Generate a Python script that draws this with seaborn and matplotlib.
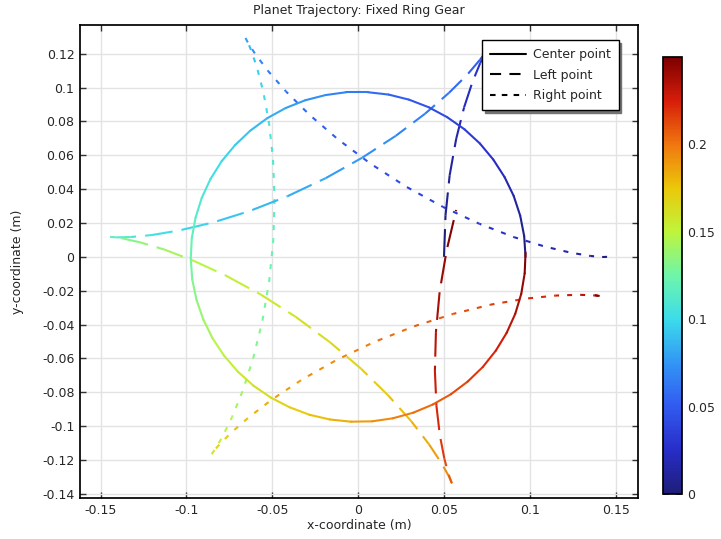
# Planet trajectory with a fixed ring gear, coloured by time

import numpy as np
import matplotlib
matplotlib.use("Agg")
import matplotlib.pyplot as plt
import seaborn as sns
from matplotlib.collections import LineCollection
from matplotlib.colors import LinearSegmentedColormap, Normalize
from matplotlib.lines import Line2D
from matplotlib.cm import ScalarMappable

# ----------------------------
# Data
# ----------------------------
time_s = [0.000, 0.005, 0.010, 0.015, 0.020, 0.025, 0.030, 0.035, 0.040, 0.045,
          0.050, 0.055, 0.060, 0.065, 0.070, 0.075, 0.080, 0.085, 0.090, 0.095,
          0.100, 0.105, 0.110, 0.115, 0.120, 0.125, 0.130, 0.135, 0.140, 0.145,
          0.150, 0.155, 0.160, 0.165, 0.170, 0.175, 0.180, 0.185, 0.190, 0.195,
          0.200, 0.205, 0.210, 0.215, 0.220, 0.225, 0.230, 0.235, 0.240, 0.245, 0.250]

center_x = [0.0975, 0.0967, 0.0944, 0.0906, 0.0853, 0.0787, 0.0709, 0.0619, 0.0519, 0.0411,
            0.0296, 0.0177, 0.0055, -0.0068, -0.0190, -0.0309, -0.0423, -0.0530, -0.0629, -0.0717,
            -0.0795, -0.0860, -0.0911, -0.0947, -0.0969, -0.0975, -0.0966, -0.0941, -0.0901, -0.0847,
            -0.0780, -0.0700, -0.0609, -0.0508, -0.0399, -0.0284, -0.0165, -0.0042, 0.0081, 0.0202,
            0.0321, 0.0434, 0.0540, 0.0638, 0.0726, 0.0802, 0.0865, 0.0915, 0.0950, 0.0970, 0.0975]
center_y = [0.0000, 0.0123, 0.0243, 0.0360, 0.0471, 0.0575, 0.0670, 0.0754, 0.0825, 0.0884,
            0.0929, 0.0959, 0.0973, 0.0973, 0.0956, 0.0925, 0.0879, 0.0819, 0.0745, 0.0660,
            0.0565, 0.0460, 0.0348, 0.0231, 0.0110, -0.0013, -0.0135, -0.0256, -0.0372, -0.0483,
            -0.0585, -0.0679, -0.0762, -0.0832, -0.0889, -0.0933, -0.0961, -0.0974, -0.0972, -0.0954,
            -0.0921, -0.0873, -0.0812, -0.0737, -0.0651, -0.0554, -0.0449, -0.0337, -0.0219, -0.0097, 0.0026]

left_x = [0.0500, 0.0509, 0.0533, 0.0571, 0.0617, 0.0666, 0.0711, 0.0744, 0.0759, 0.0749,
          0.0709, 0.0637, 0.0530, 0.0390, 0.0219, 0.0024, -0.0189, -0.0412, -0.0634, -0.0846,
          -0.1038, -0.1200, -0.1325, -0.1408, -0.1444, -0.1432, -0.1373, -0.1271, -0.1131, -0.0961,
          -0.0770, -0.0567, -0.0363, -0.0165, 0.0017, 0.0177, 0.0310, 0.0413, 0.0486, 0.0529,
          0.0547, 0.0544, 0.0527, 0.0502, 0.0476, 0.0456, 0.0447, 0.0453, 0.0475, 0.0516, 0.0571]
left_y = [0.0000, 0.0246, 0.0482, 0.0697, 0.0883, 0.1034, 0.1145, 0.1212, 0.1235, 0.1218,
          0.1164, 0.1078, 0.0970, 0.0846, 0.0715, 0.0586, 0.0465, 0.0358, 0.0270, 0.0203,
          0.0157, 0.0129, 0.0117, 0.0115, 0.0118, 0.0118, 0.0109, 0.0086, 0.0044, -0.0022,
          -0.0111, -0.0223, -0.0355, -0.0504, -0.0661, -0.0821, -0.0972, -0.1108, -0.1220, -0.1298,
          -0.1338, -0.1335, -0.1286, -0.1192, -0.1055, -0.0880, -0.0674, -0.0445, -0.0203, 0.0041, 0.0277]

right_x = [0.1450, 0.1426, 0.1355, 0.1241, 0.1090, 0.0909, 0.0707, 0.0494, 0.0279, 0.0073,
           -0.0117, -0.0283, -0.0420, -0.0526, -0.0599, -0.0641, -0.0656, -0.0647, -0.0623, -0.0589,
           -0.0552, -0.0519, -0.0496, -0.0487, -0.0494, -0.0518, -0.0558, -0.0611, -0.0671, -0.0733,
           -0.0789, -0.0832, -0.0855, -0.0851, -0.0816, -0.0746, -0.0639, -0.0498, -0.0325, -0.0125,
           0.0094, 0.0324, 0.0554, 0.0774, 0.0975, 0.1148, 0.1284, 0.1378, 0.1425, 0.1425, 0.1378]
right_y = [0.0000, -0.0001, 0.0005, 0.0024, 0.0060, 0.0116, 0.0195, 0.0295, 0.0415, 0.0550,
           0.0694, 0.0839, 0.0977, 0.1100, 0.1198, 0.1264, 0.1293, 0.1279, 0.1220, 0.1118,
           0.0973, 0.0791, 0.0580, 0.0347, 0.0102, -0.0143, -0.0380, -0.0598, -0.0788, -0.0944,
           -0.1060, -0.1135, -0.1168, -0.1160, -0.1118, -0.1045, -0.0950, -0.0840, -0.0724, -0.0609,
           -0.0503, -0.0411, -0.0337, -0.0282, -0.0247, -0.0229, -0.0224, -0.0228, -0.0234, -0.0235, -0.0226]

x_ticks = [-0.15, -0.1, -0.05, 0, 0.05, 0.1, 0.15]
y_ticks = [-0.14, -0.12, -0.1, -0.08, -0.06, -0.04, -0.02, 0, 0.02, 0.04, 0.06, 0.08, 0.1, 0.12]
cbar_ticks = [0, 0.05, 0.1, 0.15, 0.2]
legend_labels = ["Center point", "Left point", "Right point"]

# ----------------------------
# Style
# ----------------------------
sns.set_theme(style="whitegrid", rc={
    "axes.edgecolor": "black", "grid.color": "#e3e3e3", "xtick.direction": "in",
    "ytick.direction": "in", "axes.unicode_minus": False})
plt.rcParams['font.family'] = ['DejaVu Sans']
plt.rcParams['lines.scale_dashes'] = False

rainbow = ["#1e1e78", "#282dc8", "#325af0", "#3296f5", "#3cdceb", "#6ef5aa",
           "#bef53c", "#ebc80a", "#f0780f", "#d71e0a", "#7d0000"]
cmap = LinearSegmentedColormap.from_list("rainbow", rainbow)
norm = Normalize(0, 0.25)

fig = plt.figure(figsize=(7.21, 5.39), dpi=100)
ax = fig.add_axes([80/721, 1 - 498/539, 558/721, 473/539])
ax.set_xlim(-0.162, 0.163)
ax.set_ylim(-0.1425, 0.137)


def draw_path(x, y, tt, pattern):
    # one segment per time step, dash phase carried on so the pattern runs on
    pts = np.column_stack([x, y])
    tt = np.asarray(tt)
    segs = np.stack([pts[:-1], pts[1:]], axis=1)
    disp = ax.transData.transform(pts) * 72 / fig.dpi
    seglen = np.hypot(*np.diff(disp, axis=0).T)
    start = np.concatenate([[0], np.cumsum(seglen)[:-1]])
    if pattern is None:
        styles, cap = "solid", "round"
    else:
        styles = [(s % sum(pattern), pattern) for s in start]
        cap = "butt"
    lc = LineCollection(segs, cmap=cmap, norm=norm, linewidths=1.5,
                        linestyles=styles, capstyle=cap)
    lc.set_array(0.5 * (tt[:-1] + tt[1:]))
    ax.add_collection(lc)


# ----------------------------
# Trajectories
# ----------------------------
draw_path(right_x, right_y, time_s, (3.6, 5.8))
draw_path(left_x, left_y, time_s, (20, 6.5))
draw_path(center_x, center_y, time_s, None)

ax.set_xticks(x_ticks)
ax.set_xticklabels([f"{v:g}" for v in x_ticks])
ax.set_yticks(y_ticks)
ax.set_yticklabels([f"{v:g}" for v in y_ticks])
ax.tick_params(axis="both", which="both", labelsize=9, length=4, width=1, color="#333333",
               top=True, right=True, bottom=True, left=True, pad=4)
ax.set_title("Planet Trajectory: Fixed Ring Gear", fontsize=9, pad=8)
ax.set_xlabel("x-coordinate (m)", fontsize=9, labelpad=2)
ax.set_ylabel("y-coordinate (m)", fontsize=9, labelpad=13)

handles = [Line2D([], [], color="black", lw=1.5),
           Line2D([], [], color="black", lw=1.5, ls=(0, (8, 6))),
           Line2D([], [], color="black", lw=1.5, ls=(0, (4, 4.5)))]
leg = ax.legend(handles, legend_labels, loc="upper left",
                bbox_to_anchor=(0.7204, 0.968), borderaxespad=0, fontsize=9, handlelength=2.9,
                handletextpad=0.5, borderpad=0.65, labelspacing=0.6, fancybox=False,
                framealpha=1, edgecolor="black", shadow={"color": "0.45", "alpha": 1})
leg.get_frame().set_linewidth(1)

# ----------------------------
# Colour bar
# ----------------------------
cax = fig.add_axes([663/721, 1 - 494/539, 19/721, 437/539])
cb = fig.colorbar(ScalarMappable(norm=norm, cmap=cmap), cax=cax)
cb.set_ticks(cbar_ticks)
cb.set_ticklabels([f"{v:g}" for v in cbar_ticks])
cb.outline.set_edgecolor("black")
cax.tick_params(direction="in", length=4, labelsize=9, left=True, right=True, color="#333333")

fig.savefig("out.png", dpi=100)
